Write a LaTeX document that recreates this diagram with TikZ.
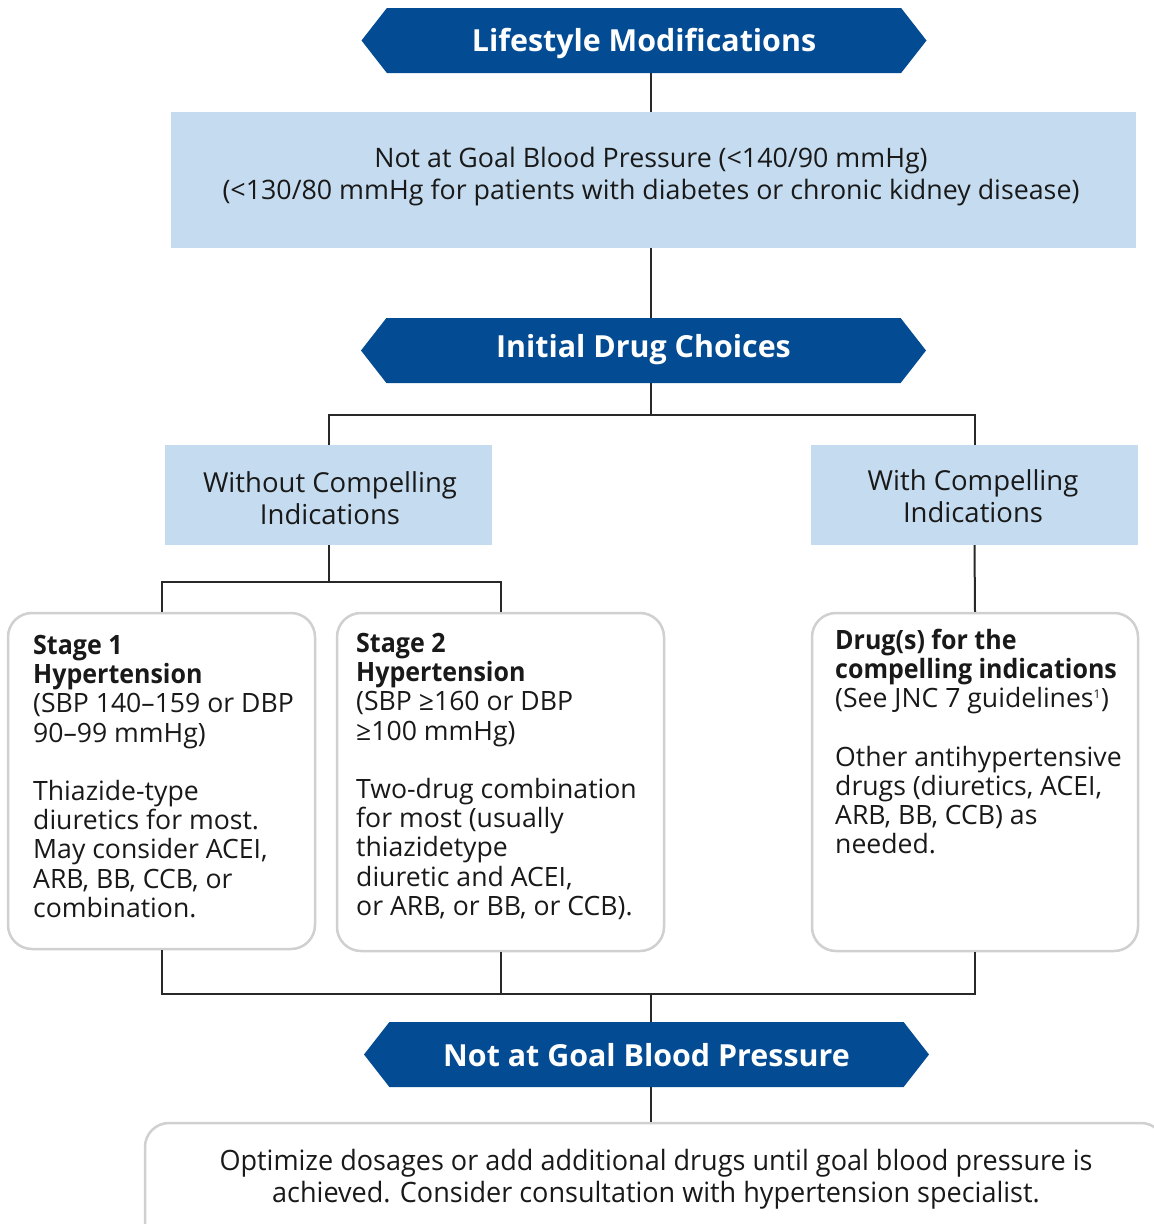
\documentclass[tikz,border=0pt]{standalone}
\usepackage{fontspec}
\setmainfont{Open Sans}
\newfontfamily\condfont[FakeStretch=0.965]{Open Sans}
\newfontfamily\hdfont[FakeStretch=0.94]{Open Sans}
\usetikzlibrary{shapes.symbols,calc}
\definecolor{dblue}{RGB}{3,75,147}
\definecolor{lblue}{RGB}{197,220,240}
\definecolor{bgray}{RGB}{208,208,208}
\definecolor{lgray}{RGB}{40,40,40}
\begin{document}
\begin{tikzpicture}[x=1pt,y=-1pt,
  banner/.style={signal, signal to=west and east, signal pointer angle=104, fill=dblue, text=white,
    font=\fontsize{30.4}{34}\selectfont\bfseries, minimum width=565, minimum height=65, inner sep=0,
    text height=21.7pt, text depth=0pt},
  lbox/.style={fill=lblue, inner sep=0},
  ltext/.style={align=center, inner sep=0, text=black!90, font=\fontsize{26.8}{32}\selectfont},
  stagebox/.style={draw=bgray, line width=2.5pt, rounded corners=24, fill=white, inner sep=0},
  stagetext/.style={align=left, font=\fontsize{26.6}{29.2}\selectfont, inner sep=0, anchor=north west, text=black!90},
  conn/.style={draw=lgray, line width=2pt}]
\useasboundingbox (0,0) rectangle (1154,1224);
\clip (0,0) rectangle (1154,1224);
\coordinate (spine) at (651,0);
% nodes
\node[banner] (b1) at (644,40.5) {Lifestyle Modifications};
\node[lbox, minimum width=965, minimum height=136] (goal) at (653.5,180) {};
\node[ltext] (goalt) at (651,177) {Not at Goal Blood Pressure (<140/90 mmHg)\\(<130/80 mmHg for patients with diabetes or chronic kidney disease)};
\node[banner, text depth=8pt] (b2) at (643.5,350.5) {Initial Drug Choices};
\node[lbox, minimum width=327, minimum height=100] (wo) at (328.5,495) {};
\node[ltext, font=\fontsize{27.5}{32}\selectfont] (wot) at (330,498) {Without Compelling\\Indications};
\node[lbox, minimum width=327, minimum height=100] (wi) at (974.5,495) {};
\node[ltext, font=\fontsize{27.5}{32}\selectfont] (wit) at (973,496) {With Compelling\\Indications};
\node[stagebox, minimum width=307, minimum height=336] (s1) at (161.5,781) {};
\node[stagetext] (s1t) at (33,635) {{\hdfont\bfseries Stage 1}\\{\hdfont\bfseries Hypertension}\\(SBP 140–159 or DBP\\90–99 mmHg)\\[29.2pt]Thiazide-type\\diuretics for most.\\May consider ACEI,\\ARB, BB, CCB, or\\combination.};
\node[stagebox, minimum width=327, minimum height=338] (s2) at (500.5,782) {};
\node[stagetext] (s2t) at (356,633) {{\hdfont\bfseries Stage 2}\\{\hdfont\bfseries Hypertension}\\(SBP ≥160 or DBP\\≥100 mmHg)\\[29.2pt]Two-drug combination\\for most (usually\\thiazidetype\\diuretic and ACEI,\\or ARB, or BB, or CCB).};
\node[stagebox, minimum width=326, minimum height=338] (dr) at (975,782) {};
\node[stagetext] (drt) at (835,629) {{\hdfont\bfseries Drug(s) for the}\\{\hdfont\bfseries compelling indications}\\(See JNC 7 guidelines\textsuperscript{\fontsize{12}{12}\selectfont 1})\\[29.2pt]Other antihypertensive\\drugs (diuretics, ACEI,\\ARB, BB, CCB) as\\needed.};
\node[banner, text height=24.7pt] (b3) at (646.5,1054.5) {Not at Goal Blood Pressure};
\node[stagebox, minimum width=1020, minimum height=140] (opt) at (655,1193) {};
\node[ltext, font=\condfont\fontsize{28}{32}\selectfont] (optt) at (656,1179) {Optimize dosages or add additional drugs until goal blood pressure is\\achieved. Consider consultation with hypertension specialist.};
% connectors
\coordinate (j1) at (651,415);
\coordinate (j2) at ($(wo.south)+(0,37)$);
\coordinate (j3) at (651,994);
\draw[conn] (b1.south -| spine) -- (goal.north -| spine);
\draw[conn] (goal.south -| spine) -- (b2.north -| spine);
\draw[conn] (b2.south -| spine) -- (j1);
\draw[conn] (wo.north) |- (j1) -| (wi.north);
\draw[conn] (wo.south) -- (j2);
\draw[conn] (s1.north) |- (j2) -| (s2.north);
\draw[conn] (wi.south) -- (dr.north);
\draw[conn] (s1.south) |- (j3) -| (dr.south);
\draw[conn] (s2.south) -- (s2.south |- j3);
\draw[conn] (j3) -- (b3.north -| spine);
\draw[conn] (b3.south -| spine) -- (opt.north -| spine);
\end{tikzpicture}
\end{document}
